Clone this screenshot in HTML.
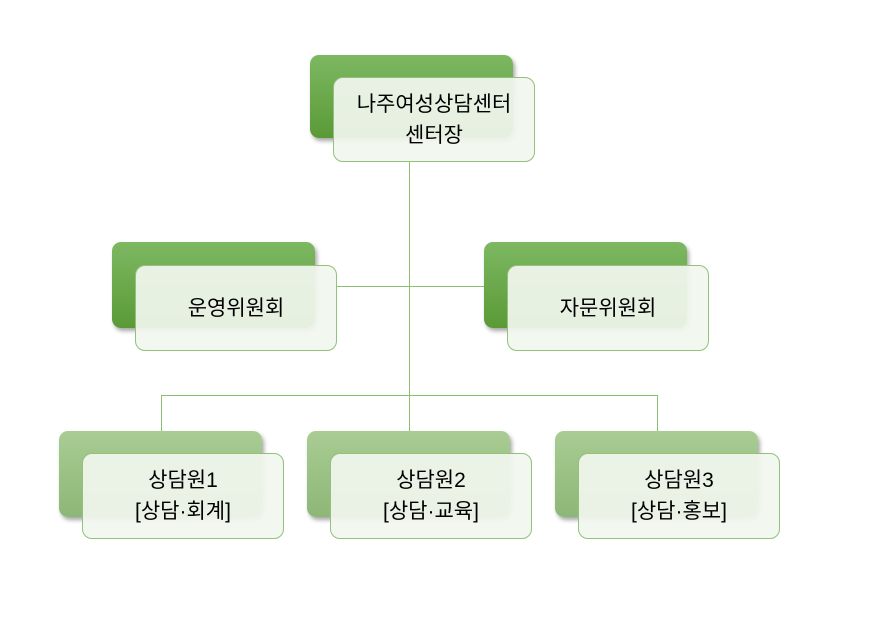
<!DOCTYPE html>
<html><head><meta charset="utf-8"><style>
body{margin:0;width:871px;height:619px;background:#fff;position:relative;overflow:hidden;font-family:"Liberation Sans","Noto Sans CJK KR",sans-serif}
.b{position:absolute;width:203px;border-radius:9px;box-shadow:2px 3px 4px rgba(0,0,0,0.35)}
.dk{background:linear-gradient(#7db862,#5a9a36)}
.lt{background:linear-gradient(#a9cc94,#8db777)}
.f{position:absolute;width:202px;border:1px solid #93c07a;border-radius:10px;background:rgba(241,246,238,0.93);display:flex;align-items:center;justify-content:center;text-align:center;font-size:21px;line-height:31px;color:#000;box-sizing:border-box}
.l{position:absolute;background:#8cbf6e}
</style></head><body>
<div class="l" style="left:409px;top:162px;width:1px;height:233px"></div>
<div class="l" style="left:337px;top:286px;width:170px;height:1px"></div>
<div class="l" style="left:161px;top:395px;width:497px;height:1px"></div>
<div class="l" style="left:161px;top:395px;width:1px;height:36px"></div>
<div class="l" style="left:409px;top:395px;width:1px;height:36px"></div>
<div class="l" style="left:657px;top:395px;width:1px;height:36px"></div>

<div class="b dk" style="left:310px;top:55px;height:83px"></div>
<div class="f" style="left:333px;top:77px;height:85px">나주여성상담센터<br>센터장</div>

<div class="b dk" style="left:112px;top:242px;height:86px"></div>
<div class="f" style="left:135px;top:265px;height:86px">운영위원회</div>
<div class="b dk" style="left:484px;top:242px;height:86px"></div>
<div class="f" style="left:507px;top:265px;height:86px">자문위원회</div>

<div class="b lt" style="left:59px;top:431px;height:86px"></div>
<div class="f" style="left:82px;top:453px;height:86px">상담원1<br>[상담·회계]</div>
<div class="b lt" style="left:307px;top:431px;height:86px"></div>
<div class="f" style="left:330px;top:453px;height:86px">상담원2<br>[상담·교육]</div>
<div class="b lt" style="left:555px;top:431px;height:86px"></div>
<div class="f" style="left:578px;top:453px;height:86px">상담원3<br>[상담·홍보]</div>
</body></html>
